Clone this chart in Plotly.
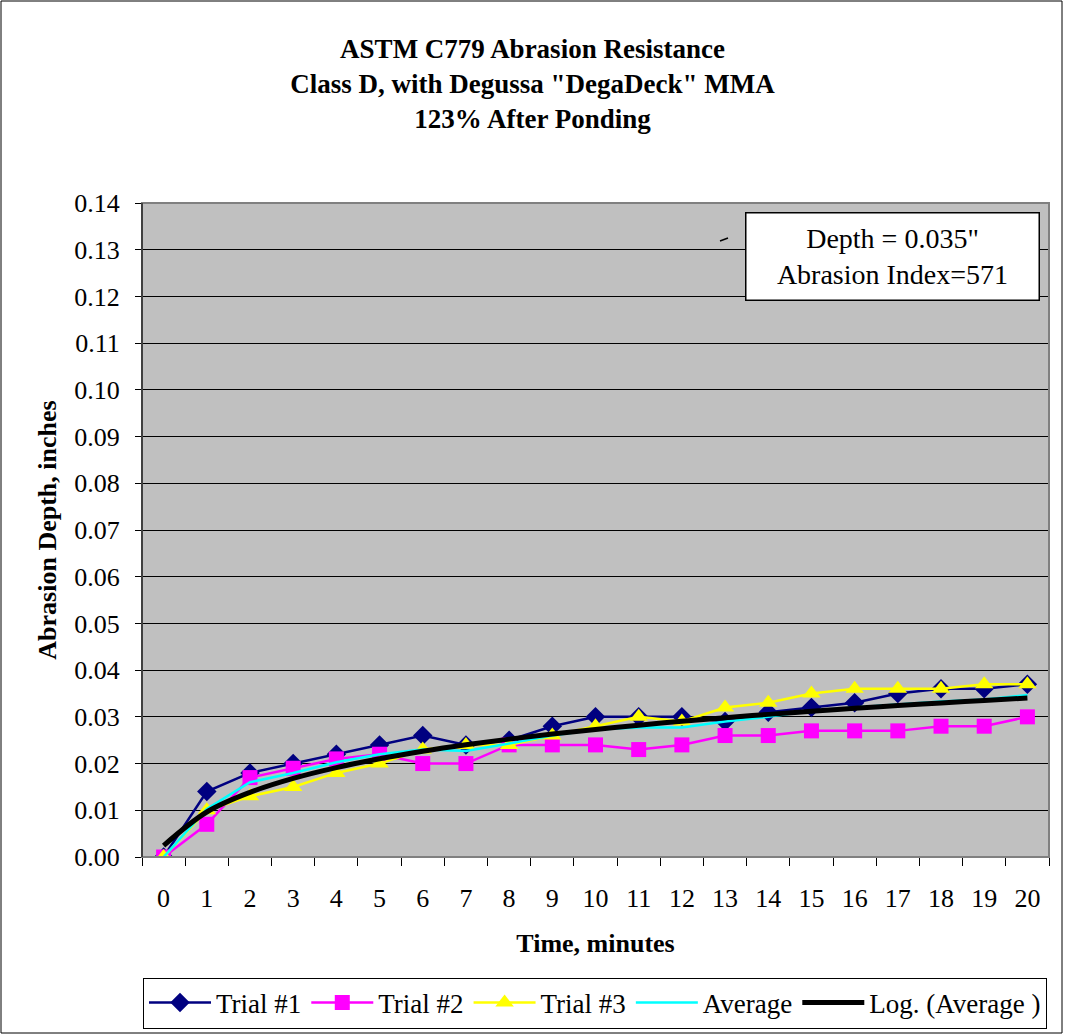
import numpy as np
import plotly.graph_objects as go

minutes = [str(i) for i in range(21)]
trial1 = [0.000, 0.014, 0.018, 0.020, 0.022, 0.024, 0.026, 0.024, 0.025, 0.028, 0.030,
          0.030, 0.030, 0.029, 0.031, 0.032, 0.033, 0.035, 0.036, 0.036, 0.037]
trial2 = [0.000, 0.007, 0.017, 0.019, 0.021, 0.022, 0.020, 0.020, 0.024, 0.024, 0.024,
          0.023, 0.024, 0.026, 0.026, 0.027, 0.027, 0.027, 0.028, 0.028, 0.030]
trial3 = [0.000, 0.010, 0.013, 0.015, 0.018, 0.020, 0.023, 0.024, 0.024, 0.026, 0.028,
          0.030, 0.029, 0.032, 0.033, 0.035, 0.036, 0.036, 0.036, 0.037, 0.037]
average = [0.0000, 0.0103, 0.0160, 0.0180, 0.0203, 0.0220, 0.0230, 0.0227, 0.0243, 0.0260, 0.0273,
           0.0277, 0.0277, 0.0290, 0.0300, 0.0313, 0.0320, 0.0327, 0.0333, 0.0337, 0.0347]

# Excel-style logarithmic trendline fitted to the average (x = 1..n)
idx = np.arange(1, len(average) + 1)
a, b = np.polyfit(np.log(idx), np.array(average), 1)
trend = a * np.log(idx) + b

W, H = 1065, 1036
L, R, T, B = 142, 16, 203, 179
pw, ph = W - L - R, H - T - B

font = "Liberation Serif"

fig = go.Figure()
fig.add_trace(go.Scatter(x=minutes, y=trial1, name="Trial #1", mode="lines+markers",
                         line=dict(color="#000080", width=2.5),
                         marker=dict(symbol="diamond", size=15, color="#000080")))
fig.add_trace(go.Scatter(x=minutes, y=trial2, name="Trial #2", mode="lines+markers",
                         line=dict(color="#FF00FF", width=2.5),
                         marker=dict(symbol="square", size=15, color="#FF00FF")))
fig.add_trace(go.Scatter(x=minutes, y=trial3, name="Trial #3", mode="lines+markers",
                         line=dict(color="#FFFF00", width=2.5),
                         marker=dict(symbol="triangle-up", size=16, color="#FFFF00")))
fig.add_trace(go.Scatter(x=minutes, y=average, name="Average", mode="lines",
                         line=dict(color="#00FFFF", width=2.5)))
fig.add_trace(go.Scatter(x=minutes, y=trend, name="Log. (Average )", mode="lines",
                         line=dict(color="#000000", width=5, shape="spline")))

fig.update_layout(
    width=W, height=H,
    margin=dict(l=L, r=R, t=T, b=B, autoexpand=False),
    paper_bgcolor="white",
    plot_bgcolor="#C0C0C0",
    font=dict(family=font, size=26, color="black"),
    title=dict(text="<b>ASTM C779 Abrasion Resistance<br>Class D, with Degussa \"DegaDeck\" MMA<br>123% After Ponding</b>",
               x=0.5, xanchor="center", y=1 - 58 / H, yanchor="top",
               font=dict(family=font, size=27, color="black")),
    xaxis=dict(type="category", tickson="boundaries", ticks="outside", ticklen=8,
               tickcolor="black", showgrid=False, showline=True, linecolor="black",
               range=[-0.5, 20.5], ticklabelstandoff=18, automargin=False,
               title=dict(text="<b>Time, minutes</b>", standoff=21,
                          font=dict(family=font, size=26)),
               tickfont=dict(family=font, size=26), zeroline=False),
    yaxis=dict(range=[0, 0.14], dtick=0.01, tickformat=".2f", ticks="outside", ticklen=6,
               tickcolor="black", showgrid=True, gridcolor="black", gridwidth=1,
               showline=True, linecolor="black", zeroline=False, ticklabelstandoff=10,
               automargin=False,
               title=dict(text="<b>Abrasion Depth, inches</b>", standoff=10,
                          font=dict(family=font, size=26)),
               tickfont=dict(family=font, size=26)),
    legend=dict(orientation="h", x=(595 - L) / pw, xanchor="center",
                y=-(1003 - (H - B)) / ph, yanchor="middle",
                bordercolor="black", borderwidth=1, bgcolor="white",
                font=dict(family=font, size=27, color="black"), itemwidth=62, tracegroupgap=0),
    showlegend=True,
)

# border of plot area
fig.add_shape(type="rect", xref="paper", yref="paper", x0=0, x1=1, y0=0, y1=1,
              line=dict(color="#808080", width=2), layer="above")
fig.add_shape(type="line", xref="paper", yref="paper", x0=0, x1=0, y0=0, y1=1,
              line=dict(color="black", width=1), layer="above")
# outer chart border
fig.add_shape(type="rect", xref="paper", yref="paper",
              x0=-(L - 1) / pw, x1=1 + (R - 3) / pw, y0=-(B - 3) / ph, y1=1 + (T - 1) / ph,
              line=dict(color="black", width=1))

fig.add_annotation(xref="paper", yref="paper", x=(892 - L) / pw, y=1 - (257 - T) / ph,
                   xanchor="center", yanchor="middle",
                   text="Depth = 0.035\"<br>Abrasion Index=571", showarrow=False,
                   font=dict(size=28, family=font, color="black"), bgcolor="white", bordercolor="black",
                   borderwidth=1.5, width=290, height=84, align="center")
fig.add_shape(type="line", xref="paper", yref="paper",
              x0=(720 - L) / pw, x1=(728 - L) / pw, y0=1 - (241 - T) / ph, y1=1 - (238 - T) / ph,
              line=dict(color="black", width=1.5))

fig.write_html("out.html")
